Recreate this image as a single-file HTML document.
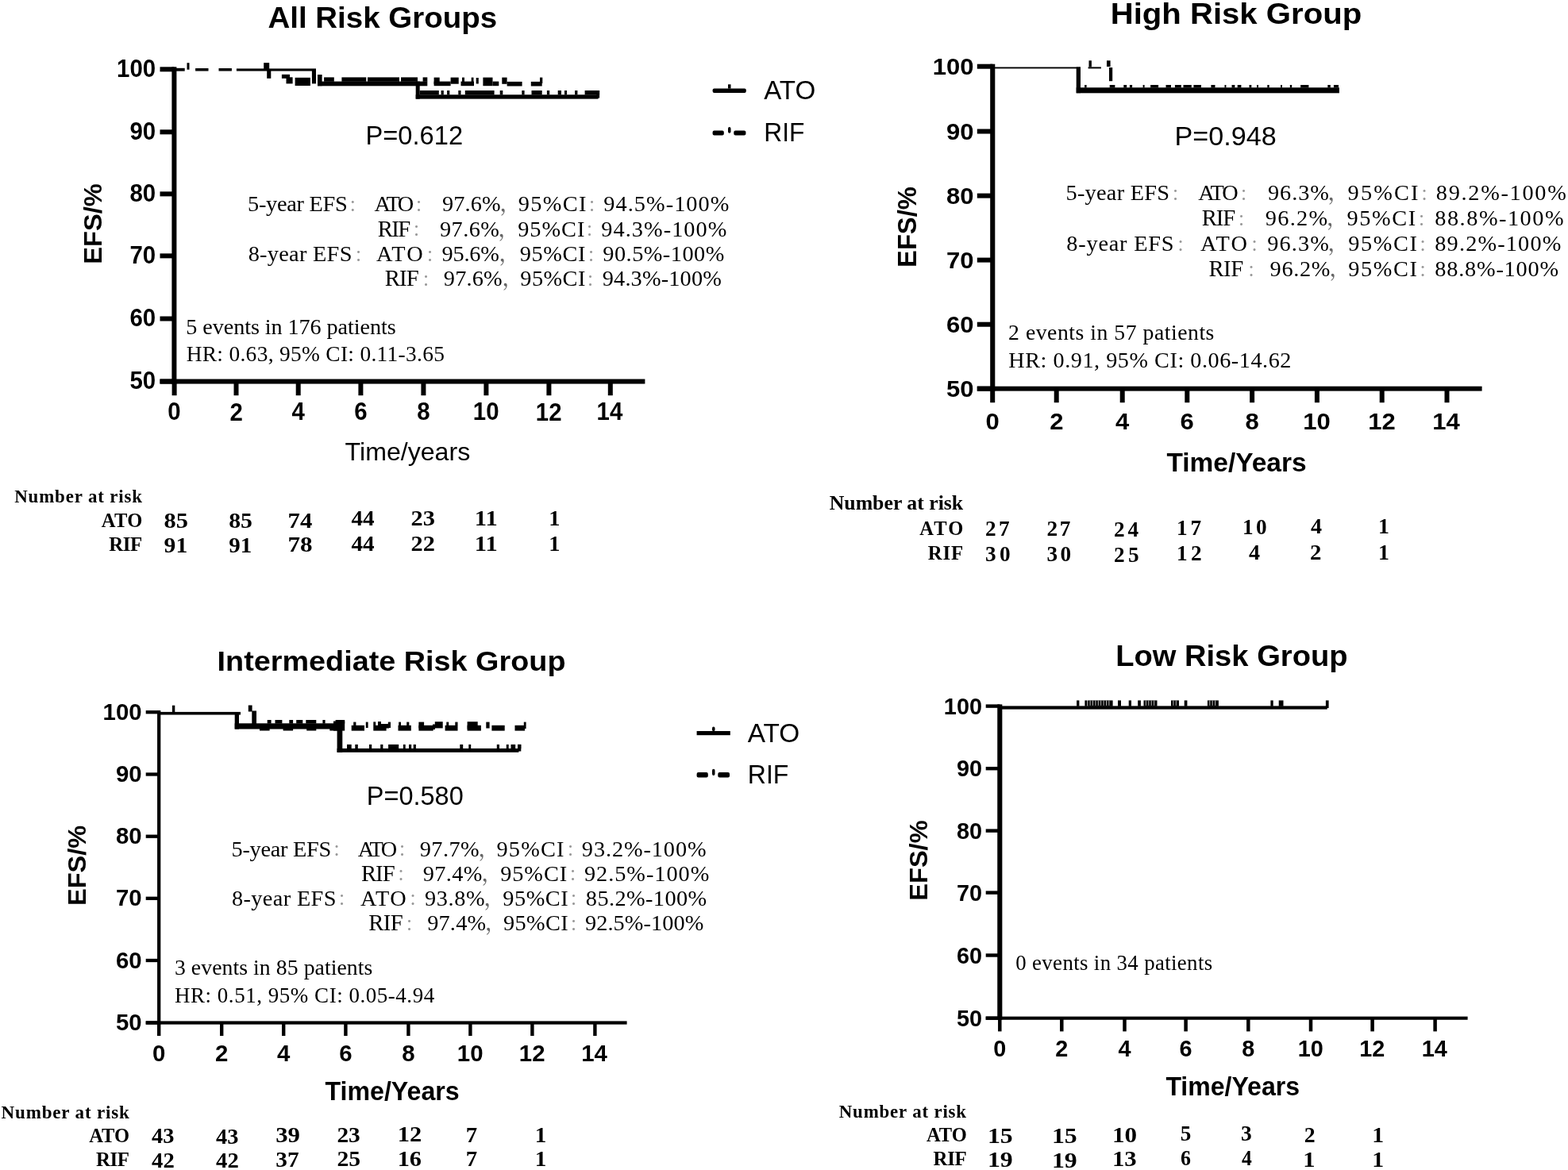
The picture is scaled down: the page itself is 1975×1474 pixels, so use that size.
<!DOCTYPE html>
<html><head><meta charset="utf-8"><title>EFS Kaplan-Meier curves</title>
<style>html,body{margin:0;padding:0;background:#fff;}svg{display:block;filter:blur(0.55px);}</style></head>
<body><svg width="1975" height="1474" viewBox="0 0 1975 1474">
<rect width="1975" height="1474" fill="#fff"/>
<g fill="#000">
<rect x="216.4" y="84.3" width="6" height="399.25"/>
<rect x="201.5" y="477.55" width="610.9" height="6"/>
<rect x="201.5" y="84.3" width="17.9" height="6"/>
<rect x="201.5" y="163.3" width="17.9" height="6"/>
<rect x="201.5" y="241.35" width="17.9" height="6"/>
<rect x="201.5" y="319.35" width="17.9" height="6"/>
<rect x="201.5" y="398.5" width="17.9" height="6"/>
<rect x="201.5" y="477.55" width="17.9" height="6"/>
<rect x="216.6" y="480.55" width="6" height="17.65"/>
<rect x="294.5" y="480.55" width="6" height="17.65"/>
<rect x="372.7" y="480.55" width="6" height="17.65"/>
<rect x="451.4" y="480.55" width="6" height="17.65"/>
<rect x="530.4" y="480.55" width="6" height="17.65"/>
<rect x="609.4" y="480.55" width="6" height="17.65"/>
<rect x="688.4" y="480.55" width="6" height="17.65"/>
<rect x="765.8" y="480.55" width="6" height="17.65"/>
<text font-family='"Liberation Sans", sans-serif' font-size="30.56" font-weight="bold" transform="translate(147.03 97.14) scale(0.9628 1)" x="0" y="0">100</text>
<text font-family='"Liberation Sans", sans-serif' font-size="30.56" font-weight="bold" transform="translate(163.51 176.14) scale(0.9628 1)" x="0" y="0">90</text>
<text font-family='"Liberation Sans", sans-serif' font-size="30.56" font-weight="bold" transform="translate(163.51 254.19) scale(0.9628 1)" x="0" y="0">80</text>
<text font-family='"Liberation Sans", sans-serif' font-size="30.56" font-weight="bold" transform="translate(163.51 332.19) scale(0.9628 1)" x="0" y="0">70</text>
<text font-family='"Liberation Sans", sans-serif' font-size="30.56" font-weight="bold" transform="translate(163.51 411.34) scale(0.9628 1)" x="0" y="0">60</text>
<text font-family='"Liberation Sans", sans-serif' font-size="30.56" font-weight="bold" transform="translate(163.51 490.39) scale(0.9628 1)" x="0" y="0">50</text>
<text font-family='"Liberation Sans", sans-serif' font-size="30.56" font-weight="bold" transform="translate(211.36 529.34) scale(0.9628 1)" x="0" y="0">0</text>
<text font-family='"Liberation Sans", sans-serif' font-size="30.56" font-weight="bold" transform="translate(289.41 529.5) scale(0.9628 1)" x="0" y="0">2</text>
<text font-family='"Liberation Sans", sans-serif' font-size="30.56" font-weight="bold" transform="translate(367.46 529.34) scale(0.9628 1)" x="0" y="0">4</text>
<text font-family='"Liberation Sans", sans-serif' font-size="30.56" font-weight="bold" transform="translate(446.16 529.34) scale(0.9628 1)" x="0" y="0">6</text>
<text font-family='"Liberation Sans", sans-serif' font-size="30.56" font-weight="bold" transform="translate(525.16 529.34) scale(0.9628 1)" x="0" y="0">8</text>
<text font-family='"Liberation Sans", sans-serif' font-size="30.56" font-weight="bold" transform="translate(595.77 529.34) scale(0.9628 1)" x="0" y="0">10</text>
<text font-family='"Liberation Sans", sans-serif' font-size="30.56" font-weight="bold" transform="translate(674.77 529.5) scale(0.9628 1)" x="0" y="0">12</text>
<text font-family='"Liberation Sans", sans-serif' font-size="30.56" font-weight="bold" transform="translate(751.59 529.34) scale(0.9628 1)" x="0" y="0">14</text>
<rect x="1247.2" y="80.7" width="6.1" height="411.9"/>
<rect x="1230.8" y="486.7" width="635.8" height="5.9"/>
<rect x="1230.8" y="80.7" width="19.45" height="6"/>
<rect x="1230.8" y="162.5" width="19.45" height="6"/>
<rect x="1230.8" y="243.6" width="19.45" height="6"/>
<rect x="1230.8" y="324.6" width="19.45" height="6"/>
<rect x="1230.8" y="405.7" width="19.45" height="6"/>
<rect x="1230.8" y="486.65" width="19.45" height="6"/>
<rect x="1247.2" y="489.65" width="6" height="17.55"/>
<rect x="1327.7" y="489.65" width="6" height="17.55"/>
<rect x="1410.7" y="489.65" width="6" height="17.55"/>
<rect x="1492.3" y="489.65" width="6" height="17.55"/>
<rect x="1574.1" y="489.65" width="6" height="17.55"/>
<rect x="1655.9" y="489.65" width="6" height="17.55"/>
<rect x="1737.7" y="489.65" width="6" height="17.55"/>
<rect x="1819.5" y="489.65" width="6" height="17.55"/>
<text font-family='"Liberation Sans", sans-serif' font-size="30.14" font-weight="bold" transform="translate(1174.64 93.9) scale(1.0291 1)" x="0" y="0">100</text>
<text font-family='"Liberation Sans", sans-serif' font-size="30.14" font-weight="bold" transform="translate(1192.01 175.7) scale(1.0291 1)" x="0" y="0">90</text>
<text font-family='"Liberation Sans", sans-serif' font-size="30.14" font-weight="bold" transform="translate(1192.01 256.8) scale(1.0291 1)" x="0" y="0">80</text>
<text font-family='"Liberation Sans", sans-serif' font-size="30.14" font-weight="bold" transform="translate(1192.01 337.8) scale(1.0291 1)" x="0" y="0">70</text>
<text font-family='"Liberation Sans", sans-serif' font-size="30.14" font-weight="bold" transform="translate(1192.01 418.9) scale(1.0291 1)" x="0" y="0">60</text>
<text font-family='"Liberation Sans", sans-serif' font-size="30.14" font-weight="bold" transform="translate(1192.01 499.85) scale(1.0291 1)" x="0" y="0">50</text>
<text font-family='"Liberation Sans", sans-serif' font-size="30.14" font-weight="bold" transform="translate(1241.51 540.8) scale(1.0291 1)" x="0" y="0">0</text>
<text font-family='"Liberation Sans", sans-serif' font-size="30.14" font-weight="bold" transform="translate(1322.17 540.95) scale(1.0291 1)" x="0" y="0">2</text>
<text font-family='"Liberation Sans", sans-serif' font-size="30.14" font-weight="bold" transform="translate(1405.01 540.8) scale(1.0291 1)" x="0" y="0">4</text>
<text font-family='"Liberation Sans", sans-serif' font-size="30.14" font-weight="bold" transform="translate(1486.61 540.8) scale(1.0291 1)" x="0" y="0">6</text>
<text font-family='"Liberation Sans", sans-serif' font-size="30.14" font-weight="bold" transform="translate(1568.41 540.8) scale(1.0291 1)" x="0" y="0">8</text>
<text font-family='"Liberation Sans", sans-serif' font-size="30.14" font-weight="bold" transform="translate(1641.37 540.8) scale(1.0291 1)" x="0" y="0">10</text>
<text font-family='"Liberation Sans", sans-serif' font-size="30.14" font-weight="bold" transform="translate(1723.17 540.95) scale(1.0291 1)" x="0" y="0">12</text>
<text font-family='"Liberation Sans", sans-serif' font-size="30.14" font-weight="bold" transform="translate(1804.35 540.8) scale(1.0291 1)" x="0" y="0">14</text>
<rect x="198.07" y="895.05" width="4.25" height="395.55"/>
<rect x="183.7" y="1286.4" width="605.9" height="4.2"/>
<rect x="183.7" y="895.05" width="16.5" height="4.3"/>
<rect x="183.7" y="973.35" width="16.5" height="4.3"/>
<rect x="183.7" y="1051.55" width="16.5" height="4.3"/>
<rect x="183.7" y="1129.65" width="16.5" height="4.3"/>
<rect x="183.7" y="1207.85" width="16.5" height="4.3"/>
<rect x="183.7" y="1286.35" width="16.5" height="4.3"/>
<rect x="198" y="1288.5" width="4.4" height="16.5"/>
<rect x="277" y="1288.5" width="4.4" height="16.5"/>
<rect x="355" y="1288.5" width="4.4" height="16.5"/>
<rect x="433.2" y="1288.5" width="4.4" height="16.5"/>
<rect x="512.2" y="1288.5" width="4.4" height="16.5"/>
<rect x="590.2" y="1288.5" width="4.4" height="16.5"/>
<rect x="668.2" y="1288.5" width="4.4" height="16.5"/>
<rect x="747.2" y="1288.5" width="4.4" height="16.5"/>
<text font-family='"Liberation Sans", sans-serif' font-size="30.28" font-weight="bold" transform="translate(129.53 906.75) scale(0.9718 1)" x="0" y="0">100</text>
<text font-family='"Liberation Sans", sans-serif' font-size="30.28" font-weight="bold" transform="translate(146.01 985.05) scale(0.9718 1)" x="0" y="0">90</text>
<text font-family='"Liberation Sans", sans-serif' font-size="30.28" font-weight="bold" transform="translate(146.01 1063.25) scale(0.9718 1)" x="0" y="0">80</text>
<text font-family='"Liberation Sans", sans-serif' font-size="30.28" font-weight="bold" transform="translate(146.01 1141.35) scale(0.9718 1)" x="0" y="0">70</text>
<text font-family='"Liberation Sans", sans-serif' font-size="30.28" font-weight="bold" transform="translate(146.01 1219.55) scale(0.9718 1)" x="0" y="0">60</text>
<text font-family='"Liberation Sans", sans-serif' font-size="30.28" font-weight="bold" transform="translate(146.01 1298.05) scale(0.9718 1)" x="0" y="0">50</text>
<text font-family='"Liberation Sans", sans-serif' font-size="30.28" font-weight="bold" transform="translate(191.96 1336.65) scale(0.9718 1)" x="0" y="0">0</text>
<text font-family='"Liberation Sans", sans-serif' font-size="30.28" font-weight="bold" transform="translate(271.11 1336.8) scale(0.9718 1)" x="0" y="0">2</text>
<text font-family='"Liberation Sans", sans-serif' font-size="30.28" font-weight="bold" transform="translate(348.96 1336.65) scale(0.9718 1)" x="0" y="0">4</text>
<text font-family='"Liberation Sans", sans-serif' font-size="30.28" font-weight="bold" transform="translate(427.16 1336.65) scale(0.9718 1)" x="0" y="0">6</text>
<text font-family='"Liberation Sans", sans-serif' font-size="30.28" font-weight="bold" transform="translate(506.16 1336.65) scale(0.9718 1)" x="0" y="0">8</text>
<text font-family='"Liberation Sans", sans-serif' font-size="30.28" font-weight="bold" transform="translate(575.77 1336.65) scale(0.9718 1)" x="0" y="0">10</text>
<text font-family='"Liberation Sans", sans-serif' font-size="30.28" font-weight="bold" transform="translate(653.77 1336.8) scale(0.9718 1)" x="0" y="0">12</text>
<text font-family='"Liberation Sans", sans-serif' font-size="30.28" font-weight="bold" transform="translate(732.19 1336.65) scale(0.9718 1)" x="0" y="0">14</text>
<rect x="1256.25" y="887.4" width="6.1" height="397.35"/>
<rect x="1241.7" y="1280.65" width="606.9" height="4.1"/>
<rect x="1241.7" y="887.4" width="17.6" height="4.4"/>
<rect x="1241.7" y="966" width="17.6" height="4.4"/>
<rect x="1241.7" y="1044.4" width="17.6" height="4.4"/>
<rect x="1241.7" y="1122.4" width="17.6" height="4.4"/>
<rect x="1241.7" y="1201.3" width="17.6" height="4.4"/>
<rect x="1241.7" y="1280.5" width="17.6" height="4.4"/>
<rect x="1257.05" y="1282.7" width="4.5" height="16.7"/>
<rect x="1335.05" y="1282.7" width="4.5" height="16.7"/>
<rect x="1414.25" y="1282.7" width="4.5" height="16.7"/>
<rect x="1491.35" y="1282.7" width="4.5" height="16.7"/>
<rect x="1570.05" y="1282.7" width="4.5" height="16.7"/>
<rect x="1648.75" y="1282.7" width="4.5" height="16.7"/>
<rect x="1726.35" y="1282.7" width="4.5" height="16.7"/>
<rect x="1805.35" y="1282.7" width="4.5" height="16.7"/>
<text font-family='"Liberation Sans", sans-serif' font-size="29.58" font-weight="bold" transform="translate(1188.87 899.6) scale(0.9755 1)" x="0" y="0">100</text>
<text font-family='"Liberation Sans", sans-serif' font-size="29.58" font-weight="bold" transform="translate(1205.03 978.2) scale(0.9755 1)" x="0" y="0">90</text>
<text font-family='"Liberation Sans", sans-serif' font-size="29.58" font-weight="bold" transform="translate(1205.03 1056.6) scale(0.9755 1)" x="0" y="0">80</text>
<text font-family='"Liberation Sans", sans-serif' font-size="29.58" font-weight="bold" transform="translate(1205.03 1134.6) scale(0.9755 1)" x="0" y="0">70</text>
<text font-family='"Liberation Sans", sans-serif' font-size="29.58" font-weight="bold" transform="translate(1205.03 1213.5) scale(0.9755 1)" x="0" y="0">60</text>
<text font-family='"Liberation Sans", sans-serif' font-size="29.58" font-weight="bold" transform="translate(1205.03 1292.7) scale(0.9755 1)" x="0" y="0">50</text>
<text font-family='"Liberation Sans", sans-serif' font-size="29.58" font-weight="bold" transform="translate(1251.22 1330.55) scale(0.9755 1)" x="0" y="0">0</text>
<text font-family='"Liberation Sans", sans-serif' font-size="29.58" font-weight="bold" transform="translate(1329.37 1330.7) scale(0.9755 1)" x="0" y="0">2</text>
<text font-family='"Liberation Sans", sans-serif' font-size="29.58" font-weight="bold" transform="translate(1408.42 1330.55) scale(0.9755 1)" x="0" y="0">4</text>
<text font-family='"Liberation Sans", sans-serif' font-size="29.58" font-weight="bold" transform="translate(1485.52 1330.55) scale(0.9755 1)" x="0" y="0">6</text>
<text font-family='"Liberation Sans", sans-serif' font-size="29.58" font-weight="bold" transform="translate(1564.22 1330.55) scale(0.9755 1)" x="0" y="0">8</text>
<text font-family='"Liberation Sans", sans-serif' font-size="29.58" font-weight="bold" transform="translate(1634.7 1330.55) scale(0.9755 1)" x="0" y="0">10</text>
<text font-family='"Liberation Sans", sans-serif' font-size="29.58" font-weight="bold" transform="translate(1712.3 1330.7) scale(0.9755 1)" x="0" y="0">12</text>
<text font-family='"Liberation Sans", sans-serif' font-size="29.58" font-weight="bold" transform="translate(1790.72 1330.55) scale(0.9755 1)" x="0" y="0">14</text>
<rect x="897.6" y="111.4" width="42.2" height="5.6" rx="2"/>
<rect x="917" y="106.3" width="3.5" height="5.3"/>
<rect x="897.6" y="164.4" width="14.2" height="6" rx="2"/>
<rect x="917" y="160" width="3.5" height="7.8" rx="2"/>
<rect x="924.3" y="164.4" width="15.1" height="6" rx="2"/>
<rect x="877.6" y="921" width="42.2" height="5.2"/>
<rect x="897" y="915.4" width="3.5" height="5.8" rx="2"/>
<rect x="877.6" y="973.1" width="14.2" height="6.4" rx="2"/>
<rect x="897" y="968.8" width="3.5" height="8.1" rx="2"/>
<rect x="904.3" y="973.1" width="14.7" height="6.4" rx="2"/>
<rect x="219.5" y="85.8" width="13.2" height="3.8"/>
<rect x="235.5" y="79.2" width="3" height="8.5"/>
<rect x="246.1" y="86" width="16.4" height="3.5"/>
<rect x="275.5" y="86" width="16.4" height="3.5"/>
<rect x="297.9" y="86.4" width="100.1" height="3.1"/>
<rect x="332.2" y="79.1" width="7" height="8.9"/>
<rect x="336.2" y="88" width="5.1" height="10.8"/>
<rect x="354.9" y="93.8" width="10.1" height="5"/>
<rect x="360.5" y="97.3" width="8.1" height="8.1"/>
<rect x="371.6" y="97.8" width="19.3" height="10.2"/>
<rect x="392.9" y="88" width="5.1" height="17.4"/>
<rect x="400" y="94" width="5.6" height="14.2"/>
<rect x="400" y="102.6" width="138.3" height="5.7"/>
<rect x="408.1" y="97.4" width="12.7" height="5.4"/>
<rect x="430.4" y="97.4" width="30.9" height="5.4"/>
<rect x="463" y="97.4" width="40" height="5.4"/>
<rect x="505" y="97.4" width="21" height="5.4"/>
<rect x="532.6" y="97.4" width="5.7" height="5.4"/>
<rect x="523.7" y="102.6" width="5" height="22"/>
<rect x="523.7" y="119.3" width="229.8" height="5.3"/>
<rect x="528.7" y="114" width="24.1" height="5.5"/>
<rect x="555.6" y="114" width="3.2" height="5.5"/>
<rect x="563.1" y="114" width="3.2" height="5.5"/>
<rect x="577.3" y="114" width="3.2" height="5.5"/>
<rect x="585.8" y="114" width="36.8" height="5.5"/>
<rect x="629.7" y="114" width="3.6" height="5.5"/>
<rect x="657.3" y="114" width="3.3" height="5.5"/>
<rect x="669.5" y="114" width="13.2" height="5.5"/>
<rect x="688.9" y="114" width="3.3" height="5.5"/>
<rect x="702.7" y="114" width="4.3" height="5.5"/>
<rect x="711" y="114" width="3" height="5.5"/>
<rect x="724.1" y="114" width="3.3" height="5.5"/>
<rect x="736.6" y="114" width="18.5" height="5.5"/>
<rect x="751.5" y="114" width="3.6" height="9.5"/>
<rect x="546.6" y="102.6" width="21" height="5.6"/>
<rect x="546.6" y="97.6" width="7.1" height="8.4"/>
<rect x="567.6" y="97.6" width="10.1" height="8.1"/>
<rect x="580.5" y="102.6" width="16.5" height="5.6"/>
<rect x="582" y="97.6" width="3" height="5.4"/>
<rect x="593.7" y="97.6" width="2.8" height="5.4"/>
<rect x="599.7" y="98" width="3.1" height="7.5"/>
<rect x="608.4" y="97.6" width="12.1" height="10.6"/>
<rect x="620.5" y="102.6" width="7.8" height="5.6"/>
<rect x="632.3" y="97.6" width="6.3" height="8.2"/>
<rect x="638.6" y="102.9" width="19" height="5.6"/>
<rect x="668.8" y="102.9" width="13.9" height="5.6"/>
<rect x="680" y="97.6" width="3.3" height="7.4"/>
<rect x="1252.5" y="84.5" width="108.5" height="1.9"/>
<rect x="1355.7" y="84.5" width="5.3" height="32.7"/>
<rect x="1355.7" y="110.3" width="331.2" height="7"/>
<rect x="1370.6" y="84.4" width="16.3" height="2"/>
<rect x="1371.5" y="76.3" width="3.4" height="8.2"/>
<rect x="1394" y="76.3" width="4.6" height="7.7"/>
<rect x="1397" y="85" width="4.2" height="17.2"/>
<rect x="1366.1" y="107" width="2.5" height="3.5"/>
<rect x="1397.7" y="107" width="6.7" height="3.5"/>
<rect x="1415.3" y="107" width="3.9" height="3.5"/>
<rect x="1422.9" y="107" width="3.2" height="3.5"/>
<rect x="1439.6" y="107" width="2" height="3.5"/>
<rect x="1449.1" y="107" width="10" height="3.5"/>
<rect x="1468.5" y="107" width="6.5" height="3.5"/>
<rect x="1479.9" y="107" width="8" height="3.5"/>
<rect x="1490.5" y="107" width="10.3" height="3.5"/>
<rect x="1503.4" y="107" width="9.6" height="3.5"/>
<rect x="1525.4" y="107" width="5.1" height="3.5"/>
<rect x="1542.5" y="107" width="1.9" height="3.5"/>
<rect x="1551.5" y="107" width="3.9" height="3.5"/>
<rect x="1558.7" y="107" width="4.7" height="3.5"/>
<rect x="1573.5" y="107" width="2.8" height="3.5"/>
<rect x="1583" y="107" width="2" height="3.5"/>
<rect x="1596.3" y="107" width="2.4" height="3.5"/>
<rect x="1613" y="107" width="2" height="3.5"/>
<rect x="1624.8" y="107" width="2.4" height="3.5"/>
<rect x="1638.1" y="107" width="10.3" height="3.5"/>
<rect x="1672.3" y="107" width="3.5" height="3.5"/>
<rect x="1679.9" y="107" width="6.1" height="3.5"/>
<rect x="201.5" y="896.9" width="101.5" height="3.6"/>
<rect x="216.9" y="888.7" width="3.4" height="8.3"/>
<rect x="295.7" y="897" width="5.3" height="21.5"/>
<rect x="312.8" y="888.5" width="4.8" height="8"/>
<rect x="317.3" y="895.5" width="5.7" height="16.5"/>
<rect x="295.7" y="911.3" width="136.3" height="7.2"/>
<rect x="327" y="918" width="12.6" height="2.5"/>
<rect x="356.6" y="918" width="12.5" height="2.5"/>
<rect x="386.2" y="918" width="12.1" height="2.5"/>
<rect x="415.3" y="918" width="9.7" height="2.5"/>
<rect x="336.7" y="907" width="4.9" height="4.6"/>
<rect x="346.5" y="907" width="8.9" height="4.6"/>
<rect x="364.3" y="907" width="4.8" height="4.6"/>
<rect x="373.2" y="907" width="8.1" height="4.6"/>
<rect x="385.3" y="907" width="13" height="4.6"/>
<rect x="406.4" y="907" width="3.2" height="4.6"/>
<rect x="422.6" y="907" width="11.6" height="4.6"/>
<rect x="420" y="908.5" width="14.2" height="12.1"/>
<rect x="424.6" y="908.5" width="6.7" height="39.3"/>
<rect x="424.6" y="942.9" width="228.8" height="4.9"/>
<rect x="437" y="937.9" width="5.7" height="5.3"/>
<rect x="447.3" y="937.9" width="3.5" height="5.3"/>
<rect x="465" y="937.9" width="3.2" height="5.3"/>
<rect x="479.2" y="937.9" width="3.2" height="5.3"/>
<rect x="489.1" y="937.9" width="13.1" height="5.3"/>
<rect x="507.9" y="937.9" width="2.8" height="5.3"/>
<rect x="515" y="937.9" width="3.2" height="5.3"/>
<rect x="520.7" y="937.9" width="3.2" height="5.3"/>
<rect x="579.3" y="937.9" width="3.9" height="5.3"/>
<rect x="590.3" y="937.9" width="2.9" height="5.3"/>
<rect x="625.8" y="937.9" width="3.2" height="5.3"/>
<rect x="637.8" y="937.9" width="2.9" height="5.3"/>
<rect x="643.5" y="937.9" width="5.7" height="5.3"/>
<rect x="652" y="937.9" width="4.3" height="5.3"/>
<rect x="652" y="937.9" width="4.3" height="8.6"/>
<rect x="442.7" y="913.8" width="16.3" height="6.8"/>
<rect x="445.2" y="909.6" width="3.2" height="4.4"/>
<rect x="460.8" y="909.6" width="2.8" height="7.4"/>
<rect x="470.3" y="913.8" width="16.3" height="6.8"/>
<rect x="470.3" y="909.4" width="2.9" height="4.6"/>
<rect x="476" y="909" width="4" height="5"/>
<rect x="480" y="912" width="10" height="5.5"/>
<rect x="488.8" y="909.6" width="3.2" height="7.4"/>
<rect x="501.5" y="913.8" width="16.3" height="6.8"/>
<rect x="502.2" y="909.6" width="2.8" height="4.4"/>
<rect x="512.2" y="909.6" width="3.1" height="4.4"/>
<rect x="527.4" y="909.6" width="6.7" height="7.9"/>
<rect x="527.4" y="913.8" width="18.3" height="6.8"/>
<rect x="547.8" y="909.2" width="9.9" height="8.2"/>
<rect x="545" y="912.5" width="3" height="6.5"/>
<rect x="560.6" y="913.8" width="15.9" height="6.8"/>
<rect x="562.3" y="909.6" width="2.9" height="4.4"/>
<rect x="573.3" y="909.6" width="3.2" height="4.4"/>
<rect x="588.6" y="909.2" width="13.1" height="9.3"/>
<rect x="588.6" y="913.8" width="17.3" height="6.8"/>
<rect x="612.3" y="909.6" width="4.3" height="7.9"/>
<rect x="619.4" y="913.8" width="16.3" height="6.8"/>
<rect x="648.5" y="913.8" width="12.5" height="6.8"/>
<rect x="659.8" y="909.6" width="2.8" height="8.4"/>
<rect x="1261.5" y="889.4" width="410.2" height="4.2"/>
<rect x="1669.9" y="882.4" width="3.7" height="9.6"/>
<rect x="1356.1" y="882.4" width="3.3" height="7.4"/>
<rect x="1366.4" y="882.4" width="3" height="7.4"/>
<rect x="1408" y="882.4" width="4" height="7.4"/>
<rect x="1421.7" y="882.4" width="3.3" height="7.4"/>
<rect x="1433.2" y="882.4" width="3.7" height="7.4"/>
<rect x="1491.7" y="882.4" width="3.7" height="7.4"/>
<rect x="1600.4" y="882.4" width="3.3" height="7.4"/>
<rect x="1610.7" y="882.4" width="5.8" height="7.4"/>
<rect x="1370.2" y="882.4" width="31.4" height="7.4"/>
<rect x="1372.6" y="882.4" width="1" height="6.4" fill="#bbb"/>
<rect x="1376" y="882.4" width="1" height="6.4" fill="#bbb"/>
<rect x="1379.4" y="882.4" width="1" height="6.4" fill="#bbb"/>
<rect x="1382.8" y="882.4" width="1" height="6.4" fill="#bbb"/>
<rect x="1386.2" y="882.4" width="1" height="6.4" fill="#bbb"/>
<rect x="1389.6" y="882.4" width="1" height="6.4" fill="#bbb"/>
<rect x="1393" y="882.4" width="1" height="6.4" fill="#bbb"/>
<rect x="1396.4" y="882.4" width="1" height="6.4" fill="#bbb"/>
<rect x="1440.5" y="882.4" width="17" height="7.4"/>
<rect x="1442.9" y="882.4" width="1" height="6.4" fill="#bbb"/>
<rect x="1446.3" y="882.4" width="1" height="6.4" fill="#bbb"/>
<rect x="1449.7" y="882.4" width="1" height="6.4" fill="#bbb"/>
<rect x="1453.1" y="882.4" width="1" height="6.4" fill="#bbb"/>
<rect x="1475" y="882.4" width="10" height="7.4"/>
<rect x="1477.4" y="882.4" width="1" height="6.4" fill="#bbb"/>
<rect x="1480.8" y="882.4" width="1" height="6.4" fill="#bbb"/>
<rect x="1520.9" y="882.4" width="14" height="7.4"/>
<rect x="1523.3" y="882.4" width="1" height="6.4" fill="#bbb"/>
<rect x="1526.7" y="882.4" width="1" height="6.4" fill="#bbb"/>
<rect x="1530.1" y="882.4" width="1" height="6.4" fill="#bbb"/>
<text font-family='"Liberation Sans", sans-serif' font-size="37.67" font-weight="bold" transform="translate(337.44 34.8) scale(1.0222 1)" x="0" y="0">All Risk Groups</text>
<text font-family='"Liberation Sans", sans-serif' font-size="36.99" font-weight="bold" transform="translate(1398.69 29.7) scale(1.0846 1)" x="0" y="0">High Risk Group</text>
<text font-family='"Liberation Sans", sans-serif' font-size="35.75" font-weight="bold" transform="translate(273.55 844.7) scale(1.0575 1)" x="0" y="0">Intermediate Risk Group</text>
<text font-family='"Liberation Sans", sans-serif' font-size="36.99" font-weight="bold" transform="translate(1405.13 839.2) scale(1.0314 1)" x="0" y="0">Low Risk Group</text>
<text font-family='"Liberation Sans", sans-serif' font-size="31.92" transform="translate(434.56 580.1) scale(1.0071 1)" x="0" y="0">Time/years</text>
<text font-family='"Liberation Sans", sans-serif' font-size="32.47" font-weight="bold" transform="translate(1469.47 593.7) scale(1.0311 1)" x="0" y="0">Time/Years</text>
<text font-family='"Liberation Sans", sans-serif' font-size="32.33" font-weight="bold" transform="translate(409.48 1386) scale(0.9945 1)" x="0" y="0">Time/Years</text>
<text font-family='"Liberation Sans", sans-serif' font-size="32.47" font-weight="bold" transform="translate(1468.38 1379.9) scale(0.9873 1)" x="0" y="0">Time/Years</text>
<text font-family='"Liberation Sans", sans-serif' font-size="33.57" transform="translate(460.49 181.7) scale(0.9734 1)" x="0" y="0">P=0.612</text>
<text font-family='"Liberation Sans", sans-serif' font-size="33.14" transform="translate(1479.57 182.8) scale(1.0307 1)" x="0" y="0">P=0.948</text>
<text font-family='"Liberation Sans", sans-serif' font-size="33.86" transform="translate(461.8 1013.8) scale(0.9599 1)" x="0" y="0">P=0.580</text>
<text font-family='"Liberation Sans", sans-serif' font-size="33.29" transform="translate(962.2 124.8) scale(0.9967 1)" x="0" y="0">ATO</text>
<text font-family='"Liberation Sans", sans-serif' font-size="33.14" transform="translate(962.26 178.1) scale(0.9578 1)" x="0" y="0">RIF</text>
<text font-family='"Liberation Sans", sans-serif' font-size="33.86" transform="translate(941.8 934.8) scale(0.9861 1)" x="0" y="0">ATO</text>
<text font-family='"Liberation Sans", sans-serif' font-size="33.29" transform="translate(941.84 987.3) scale(0.9618 1)" x="0" y="0">RIF</text>
<text font-family='"Liberation Serif", serif' font-size="28.18" x="234.31" y="421" letter-spacing="-0.07">5 events in 176 patients</text>
<text font-family='"Liberation Serif", serif' font-size="27.42" x="234.68" y="454.9" letter-spacing="0.31">HR: 0.63, 95% CI: 0.11-3.65</text>
<text font-family='"Liberation Serif", serif' font-size="27.73" x="1270.09" y="428.3" letter-spacing="0.52">2 events in 57 patients</text>
<text font-family='"Liberation Serif", serif' font-size="28.18" x="1270.35" y="462.9" letter-spacing="0.55">HR: 0.91, 95% CI: 0.06-14.62</text>
<text font-family='"Liberation Serif", serif' font-size="27.73" x="219.91" y="1228.3" letter-spacing="0.07">3 events in 85 patients</text>
<text font-family='"Liberation Serif", serif' font-size="26.97" x="219.99" y="1262.6" letter-spacing="0.54">HR: 0.51, 95% CI: 0.05-4.94</text>
<text font-family='"Liberation Serif", serif' font-size="26.82" x="1279.23" y="1222.3" letter-spacing="0.37">0 events in 34 patients</text>
<text font-family='"Liberation Serif", serif' font-size="28.33" x="312.1" y="266.2" letter-spacing="-0.29">5-year EFS</text>
<text font-family='"Liberation Serif", serif' font-size="28.33" x="471.62" y="266.2" letter-spacing="-2.48">ATO</text>
<text font-family='"Liberation Serif", serif' font-size="28.33" x="556.95" y="266.2" letter-spacing="0.15">97.6%</text>
<text font-family='"Liberation Serif", serif' font-size="28.33" x="652.65" y="266.2" letter-spacing="1.38">95%CI</text>
<text font-family='"Liberation Serif", serif' font-size="28.33" x="760.35" y="266.2" letter-spacing="1.03">94.5%-100%</text>
<text font-family='"Liberation Serif", serif' font-size="28.77" x="475.74" y="297.6" letter-spacing="-1.58">RIF</text>
<text font-family='"Liberation Serif", serif' font-size="28.33" x="553.95" y="297.6" letter-spacing="0.43">97.6%</text>
<text font-family='"Liberation Serif", serif' font-size="28.33" x="652.15" y="297.6" letter-spacing="1">95%CI</text>
<text font-family='"Liberation Serif", serif' font-size="28.33" x="757.35" y="297.6" letter-spacing="1.03">94.3%-100%</text>
<text font-family='"Liberation Serif", serif' font-size="28.33" x="312.67" y="328.8" letter-spacing="0.28">8-year EFS</text>
<text font-family='"Liberation Serif", serif' font-size="28.33" x="473.92" y="328.8" letter-spacing="2.12">ATO</text>
<text font-family='"Liberation Serif", serif' font-size="28.33" x="556.55" y="328.8" letter-spacing="-0.22">95.6%</text>
<text font-family='"Liberation Serif", serif' font-size="28.33" x="654.65" y="328.8" letter-spacing="0.63">95%CI</text>
<text font-family='"Liberation Serif", serif' font-size="28.33" x="759.35" y="328.8" letter-spacing="0.47">90.5%-100%</text>
<text font-family='"Liberation Serif", serif' font-size="28.77" x="484.64" y="360" letter-spacing="-0.78">RIF</text>
<text font-family='"Liberation Serif", serif' font-size="28.33" x="558.85" y="360" letter-spacing="0.17">97.6%</text>
<text font-family='"Liberation Serif", serif' font-size="28.33" x="655.25" y="360" letter-spacing="0.48">95%CI</text>
<text font-family='"Liberation Serif", serif' font-size="28.33" x="758.75" y="360" letter-spacing="0.15">94.3%-100%</text>
<text font-family='"Liberation Serif", serif' font-size="28.33" x="1342.5" y="252" letter-spacing="0.25">5-year EFS</text>
<text font-family='"Liberation Serif", serif' font-size="28.33" x="1509.32" y="252" letter-spacing="-2.13">ATO</text>
<text font-family='"Liberation Serif", serif' font-size="28.33" x="1596.95" y="252" letter-spacing="0.93">96.3%</text>
<text font-family='"Liberation Serif", serif' font-size="28.33" x="1697.55" y="252" letter-spacing="2.18">95%CI</text>
<text font-family='"Liberation Serif", serif' font-size="28.33" x="1808.87" y="252" letter-spacing="1.69">89.2%-100%</text>
<text font-family='"Liberation Serif", serif' font-size="28.77" x="1513.64" y="284" letter-spacing="-1.03">RIF</text>
<text font-family='"Liberation Serif", serif' font-size="28.33" x="1593.65" y="284" letter-spacing="1.35">96.2%</text>
<text font-family='"Liberation Serif", serif' font-size="28.33" x="1696.55" y="284" letter-spacing="1.6">95%CI</text>
<text font-family='"Liberation Serif", serif' font-size="28.33" x="1807.27" y="284" letter-spacing="1.51">88.8%-100%</text>
<text font-family='"Liberation Serif", serif' font-size="28.33" x="1343.27" y="315.9" letter-spacing="0.79">8-year EFS</text>
<text font-family='"Liberation Serif", serif' font-size="28.33" x="1511.92" y="315.9" letter-spacing="2.27">ATO</text>
<text font-family='"Liberation Serif", serif' font-size="28.33" x="1596.25" y="315.9" letter-spacing="1.1">96.3%</text>
<text font-family='"Liberation Serif", serif' font-size="28.33" x="1698.15" y="315.9" letter-spacing="1.63">95%CI</text>
<text font-family='"Liberation Serif", serif' font-size="28.33" x="1807.27" y="315.9" letter-spacing="1.15">89.2%-100%</text>
<text font-family='"Liberation Serif", serif' font-size="28.77" x="1522.44" y="347.9" letter-spacing="-0.53">RIF</text>
<text font-family='"Liberation Serif", serif' font-size="28.33" x="1599.55" y="347.9" letter-spacing="0.67">96.2%</text>
<text font-family='"Liberation Serif", serif' font-size="28.33" x="1698.15" y="347.9" letter-spacing="1.63">95%CI</text>
<text font-family='"Liberation Serif", serif' font-size="28.33" x="1807.27" y="347.9" letter-spacing="0.79">88.8%-100%</text>
<text font-family='"Liberation Serif", serif' font-size="28.33" x="291.5" y="1078.6" letter-spacing="-0.28">5-year EFS</text>
<text font-family='"Liberation Serif", serif' font-size="28.33" x="450.82" y="1078.6" letter-spacing="-2.58">ATO</text>
<text font-family='"Liberation Serif", serif' font-size="28.33" x="528.75" y="1078.6" letter-spacing="0.45">97.7%</text>
<text font-family='"Liberation Serif", serif' font-size="28.33" x="625.45" y="1078.6" letter-spacing="1.18">95%CI</text>
<text font-family='"Liberation Serif", serif' font-size="28.33" x="732.85" y="1078.6" letter-spacing="0.89">93.2%-100%</text>
<text font-family='"Liberation Serif", serif' font-size="28.77" x="454.94" y="1109.7" letter-spacing="-1.03">RIF</text>
<text font-family='"Liberation Serif", serif' font-size="28.33" x="532.85" y="1109.7" letter-spacing="0.35">97.4%</text>
<text font-family='"Liberation Serif", serif' font-size="28.33" x="630.15" y="1109.7" letter-spacing="0.95">95%CI</text>
<text font-family='"Liberation Serif", serif' font-size="28.33" x="735.95" y="1109.7" letter-spacing="0.96">92.5%-100%</text>
<text font-family='"Liberation Serif", serif' font-size="28.33" x="292.07" y="1140.7" letter-spacing="0.35">8-year EFS</text>
<text font-family='"Liberation Serif", serif' font-size="28.33" x="454.02" y="1140.7" letter-spacing="1.62">ATO</text>
<text font-family='"Liberation Serif", serif' font-size="28.33" x="535.05" y="1140.7" letter-spacing="0.6">93.8%</text>
<text font-family='"Liberation Serif", serif' font-size="28.33" x="633.35" y="1140.7" letter-spacing="0.53">95%CI</text>
<text font-family='"Liberation Serif", serif' font-size="28.33" x="737.87" y="1140.7" letter-spacing="0.4">85.2%-100%</text>
<text font-family='"Liberation Serif", serif' font-size="28.77" x="464.34" y="1172" letter-spacing="-0.68">RIF</text>
<text font-family='"Liberation Serif", serif' font-size="28.33" x="538.15" y="1172" letter-spacing="0.2">97.4%</text>
<text font-family='"Liberation Serif", serif' font-size="28.33" x="633.95" y="1172" letter-spacing="0.38">95%CI</text>
<text font-family='"Liberation Serif", serif' font-size="28.33" x="736.95" y="1172" letter-spacing="0.08">92.5%-100%</text>
<text font-family='"Liberation Serif", serif' font-size="22.9" font-weight="bold" x="18.14" y="633.4" letter-spacing="0.87">Number at risk</text>
<text font-family='"Liberation Serif", serif' font-size="24.55" font-weight="bold" x="127.75" y="663.7" letter-spacing="0.31">ATO</text>
<text font-family='"Liberation Serif", serif' font-size="24.92" font-weight="bold" x="137.2" y="693.7" letter-spacing="-0.44">RIF</text>
<text font-family='"Liberation Serif", serif' font-size="27.27" font-weight="bold" transform="translate(206.59 664.7) scale(1.1158 1)" x="0" y="0">85</text>
<text font-family='"Liberation Serif", serif' font-size="27.27" font-weight="bold" transform="translate(288.21 665.3) scale(1.0921 1)" x="0" y="0">85</text>
<text font-family='"Liberation Serif", serif' font-size="27.69" font-weight="bold" transform="translate(362.55 664.5) scale(1.1108 1)" x="0" y="0">74</text>
<text font-family='"Liberation Serif", serif' font-size="27.69" font-weight="bold" transform="translate(442.51 662.4) scale(1.0536 1)" x="0" y="0">44</text>
<text font-family='"Liberation Serif", serif' font-size="27.27" font-weight="bold" transform="translate(517.48 662.4) scale(1.1158 1)" x="0" y="0">23</text>
<text font-family='"Liberation Serif", serif' font-size="27.27" font-weight="bold" transform="translate(597.86 662.4) scale(1.1181 1)" x="0" y="0">11</text>
<text font-family='"Liberation Serif", serif' font-size="27.27" font-weight="bold" transform="translate(691.23 662.4) scale(1.0405 1)" x="0" y="0">1</text>
<text font-family='"Liberation Serif", serif' font-size="27.27" font-weight="bold" transform="translate(206.61 696.1) scale(1.0880 1)" x="0" y="0">91</text>
<text font-family='"Liberation Serif", serif' font-size="27.27" font-weight="bold" transform="translate(288.23 696.1) scale(1.0641 1)" x="0" y="0">91</text>
<text font-family='"Liberation Serif", serif' font-size="27.27" font-weight="bold" transform="translate(362.53 695) scale(1.1403 1)" x="0" y="0">78</text>
<text font-family='"Liberation Serif", serif' font-size="27.69" font-weight="bold" transform="translate(442.51 693.8) scale(1.0536 1)" x="0" y="0">44</text>
<text font-family='"Liberation Serif", serif' font-size="27.27" font-weight="bold" transform="translate(517.49 693.8) scale(1.1120 1)" x="0" y="0">22</text>
<text font-family='"Liberation Serif", serif' font-size="27.27" font-weight="bold" transform="translate(597.86 693.8) scale(1.1181 1)" x="0" y="0">11</text>
<text font-family='"Liberation Serif", serif' font-size="27.27" font-weight="bold" transform="translate(691.23 693.8) scale(1.0405 1)" x="0" y="0">1</text>
<text font-family='"Liberation Serif", serif' font-size="25.8" font-weight="bold" x="1044.68" y="642" letter-spacing="-0.01">Number at risk</text>
<text font-family='"Liberation Serif", serif' font-size="24.55" font-weight="bold" x="1158.35" y="673.8" letter-spacing="2.06">ATO</text>
<text font-family='"Liberation Serif", serif' font-size="24.92" font-weight="bold" x="1168.8" y="705.2" letter-spacing="0.81">RIF</text>
<text font-family='"Liberation Serif", serif' font-size="27.27" font-weight="bold" x="1241.11" y="675.2" letter-spacing="3.16">27</text>
<text font-family='"Liberation Serif", serif' font-size="27.27" font-weight="bold" x="1318.41" y="675.2" letter-spacing="2.76">27</text>
<text font-family='"Liberation Serif", serif' font-size="27.27" font-weight="bold" x="1403.11" y="676" letter-spacing="3.66">24</text>
<text font-family='"Liberation Serif", serif' font-size="27.27" font-weight="bold" x="1482.02" y="674.4" letter-spacing="3.75">17</text>
<text font-family='"Liberation Serif", serif' font-size="27.27" font-weight="bold" x="1564.92" y="673.4" letter-spacing="3.4">10</text>
<text font-family='"Liberation Serif", serif' font-size="27.69" font-weight="bold" transform="translate(1650.92 672.4) scale(1.0142 1)" x="0" y="0">4</text>
<text font-family='"Liberation Serif", serif' font-size="27.27" font-weight="bold" transform="translate(1735.97 672.4) scale(1.0207 1)" x="0" y="0">1</text>
<text font-family='"Liberation Serif", serif' font-size="27.27" font-weight="bold" x="1241.11" y="706.8" letter-spacing="4.21">30</text>
<text font-family='"Liberation Serif", serif' font-size="27.27" font-weight="bold" x="1318.41" y="706.8" letter-spacing="3.41">30</text>
<text font-family='"Liberation Serif", serif' font-size="27.27" font-weight="bold" x="1403.11" y="707.8" letter-spacing="4.21">25</text>
<text font-family='"Liberation Serif", serif' font-size="27.27" font-weight="bold" x="1482.02" y="706.4" letter-spacing="4.3">12</text>
<text font-family='"Liberation Serif", serif' font-size="27.69" font-weight="bold" transform="translate(1572.92 705.2) scale(1.0142 1)" x="0" y="0">4</text>
<text font-family='"Liberation Serif", serif' font-size="27.27" font-weight="bold" transform="translate(1650.05 705.2) scale(1.0563 1)" x="0" y="0">2</text>
<text font-family='"Liberation Serif", serif' font-size="27.27" font-weight="bold" transform="translate(1735.97 705) scale(1.0207 1)" x="0" y="0">1</text>
<text font-family='"Liberation Serif", serif' font-size="23.04" font-weight="bold" x="1.54" y="1408.9" letter-spacing="0.83">Number at risk</text>
<text font-family='"Liberation Serif", serif' font-size="24.55" font-weight="bold" x="112.15" y="1439.2" letter-spacing="0.01">ATO</text>
<text font-family='"Liberation Serif", serif' font-size="24.92" font-weight="bold" x="121" y="1468.6" letter-spacing="-0.44">RIF</text>
<text font-family='"Liberation Serif", serif' font-size="27.27" font-weight="bold" transform="translate(191.12 1440.2) scale(1.0427 1)" x="0" y="0">43</text>
<text font-family='"Liberation Serif", serif' font-size="27.27" font-weight="bold" transform="translate(272.12 1440.8) scale(1.0427 1)" x="0" y="0">43</text>
<text font-family='"Liberation Serif", serif' font-size="27.27" font-weight="bold" transform="translate(347.17 1439.2) scale(1.1279 1)" x="0" y="0">39</text>
<text font-family='"Liberation Serif", serif' font-size="27.27" font-weight="bold" transform="translate(424.43 1438.6) scale(1.0763 1)" x="0" y="0">23</text>
<text font-family='"Liberation Serif", serif' font-size="27.27" font-weight="bold" transform="translate(500.66 1438) scale(1.1167 1)" x="0" y="0">12</text>
<text font-family='"Liberation Serif", serif' font-size="27.69" font-weight="bold" transform="translate(586.87 1439.2) scale(1.0403 1)" x="0" y="0">7</text>
<text font-family='"Liberation Serif", serif' font-size="27.27" font-weight="bold" transform="translate(673.66 1439.2) scale(1.0703 1)" x="0" y="0">1</text>
<text font-family='"Liberation Serif", serif' font-size="27.27" font-weight="bold" transform="translate(191.11 1470.6) scale(1.0537 1)" x="0" y="0">42</text>
<text font-family='"Liberation Serif", serif' font-size="27.27" font-weight="bold" transform="translate(272.11 1470.6) scale(1.0537 1)" x="0" y="0">42</text>
<text font-family='"Liberation Serif", serif' font-size="27.27" font-weight="bold" transform="translate(347.23 1469.5) scale(1.0766 1)" x="0" y="0">37</text>
<text font-family='"Liberation Serif", serif' font-size="27.27" font-weight="bold" transform="translate(424.41 1468.6) scale(1.0880 1)" x="0" y="0">25</text>
<text font-family='"Liberation Serif", serif' font-size="27.27" font-weight="bold" transform="translate(500.67 1468.6) scale(1.1124 1)" x="0" y="0">16</text>
<text font-family='"Liberation Serif", serif' font-size="27.69" font-weight="bold" transform="translate(586.87 1468.6) scale(1.0403 1)" x="0" y="0">7</text>
<text font-family='"Liberation Serif", serif' font-size="27.27" font-weight="bold" transform="translate(673.66 1468.6) scale(1.0703 1)" x="0" y="0">1</text>
<text font-family='"Liberation Serif", serif' font-size="22.9" font-weight="bold" x="1056.74" y="1407.9" letter-spacing="0.82">Number at risk</text>
<text font-family='"Liberation Serif", serif' font-size="24.55" font-weight="bold" x="1166.95" y="1438.3" letter-spacing="0.01">ATO</text>
<text font-family='"Liberation Serif", serif' font-size="24.92" font-weight="bold" x="1175.5" y="1468.1" letter-spacing="-0.29">RIF</text>
<text font-family='"Liberation Serif", serif' font-size="27.27" font-weight="bold" transform="translate(1243.95 1439.7) scale(1.1667 1)" x="0" y="0">15</text>
<text font-family='"Liberation Serif", serif' font-size="27.27" font-weight="bold" transform="translate(1324.95 1440.3) scale(1.1667 1)" x="0" y="0">15</text>
<text font-family='"Liberation Serif", serif' font-size="27.27" font-weight="bold" transform="translate(1400.91 1438.7) scale(1.1417 1)" x="0" y="0">10</text>
<text font-family='"Liberation Serif", serif' font-size="27.69" font-weight="bold" transform="translate(1486.71 1437.4) scale(0.9802 1)" x="0" y="0">5</text>
<text font-family='"Liberation Serif", serif' font-size="27.27" font-weight="bold" transform="translate(1562.9 1437.4) scale(1.0062 1)" x="0" y="0">3</text>
<text font-family='"Liberation Serif", serif' font-size="27.27" font-weight="bold" transform="translate(1642.69 1438.6) scale(1.0214 1)" x="0" y="0">2</text>
<text font-family='"Liberation Serif", serif' font-size="27.27" font-weight="bold" transform="translate(1728.32 1438.6) scale(1.0901 1)" x="0" y="0">1</text>
<text font-family='"Liberation Serif", serif' font-size="27.27" font-weight="bold" transform="translate(1243.95 1470.1) scale(1.1667 1)" x="0" y="0">19</text>
<text font-family='"Liberation Serif", serif' font-size="27.27" font-weight="bold" transform="translate(1324.95 1470.7) scale(1.1667 1)" x="0" y="0">19</text>
<text font-family='"Liberation Serif", serif' font-size="27.27" font-weight="bold" transform="translate(1400.94 1469) scale(1.1288 1)" x="0" y="0">13</text>
<text font-family='"Liberation Serif", serif' font-size="27.27" font-weight="bold" transform="translate(1487.02 1468.4) scale(0.9500 1)" x="0" y="0">6</text>
<text font-family='"Liberation Serif", serif' font-size="27.69" font-weight="bold" transform="translate(1564.04 1468.4) scale(0.9220 1)" x="0" y="0">4</text>
<text font-family='"Liberation Serif", serif' font-size="27.27" font-weight="bold" transform="translate(1641.36 1469.6) scale(1.1198 1)" x="0" y="0">1</text>
<text font-family='"Liberation Serif", serif' font-size="27.27" font-weight="bold" transform="translate(1728.32 1469.6) scale(1.0901 1)" x="0" y="0">1</text>
<text font-family='"Liberation Sans", sans-serif' font-size="32.27" font-weight="bold" transform="translate(128.15 332.78) rotate(-90) scale(1.0108 1)" x="0" y="0">EFS/%</text>
<text font-family='"Liberation Sans", sans-serif' font-size="34" font-weight="bold" transform="translate(1153.82 336.89) rotate(-90) scale(0.9612 1)" x="0" y="0">EFS/%</text>
<text font-family='"Liberation Sans", sans-serif' font-size="30.93" font-weight="bold" transform="translate(108.28 1140.98) rotate(-90) scale(1.0523 1)" x="0" y="0">EFS/%</text>
<text font-family='"Liberation Sans", sans-serif' font-size="32.13" font-weight="bold" transform="translate(1167.76 1134.68) rotate(-90) scale(1.0130 1)" x="0" y="0">EFS/%</text>
<text font-family='"Liberation Serif", "Noto Serif CJK SC", serif' font-size="25" x="438.45" y="266.95" fill="#9a9a9a">：</text>
<text font-family='"Liberation Serif", "Noto Serif CJK SC", serif' font-size="25" x="521.85" y="266.95" fill="#9a9a9a">：</text>
<text font-family='"Liberation Serif", "Noto Serif CJK SC", serif' font-size="25" x="739.65" y="266.95" fill="#9a9a9a">：</text>
<text font-family='"Liberation Serif", "Noto Serif CJK SC", serif' font-size="25" x="518.65" y="298.35" fill="#9a9a9a">：</text>
<text font-family='"Liberation Serif", "Noto Serif CJK SC", serif' font-size="25" x="736.65" y="298.35" fill="#9a9a9a">：</text>
<text font-family='"Liberation Serif", "Noto Serif CJK SC", serif' font-size="25" x="445.75" y="329.55" fill="#9a9a9a">：</text>
<text font-family='"Liberation Serif", "Noto Serif CJK SC", serif' font-size="25" x="535.65" y="329.55" fill="#9a9a9a">：</text>
<text font-family='"Liberation Serif", "Noto Serif CJK SC", serif' font-size="25" x="738.65" y="329.55" fill="#9a9a9a">：</text>
<text font-family='"Liberation Serif", "Noto Serif CJK SC", serif' font-size="25" x="530.85" y="360.75" fill="#9a9a9a">：</text>
<text font-family='"Liberation Serif", "Noto Serif CJK SC", serif' font-size="25" x="737.65" y="360.75" fill="#9a9a9a">：</text>
<text font-family='"Liberation Serif", "Noto Serif CJK SC", serif' font-size="27.8" x="629.19" y="266.2" fill="#666">，</text>
<text font-family='"Liberation Serif", "Noto Serif CJK SC", serif' font-size="27.8" x="627.19" y="297.6" fill="#666">，</text>
<text font-family='"Liberation Serif", "Noto Serif CJK SC", serif' font-size="27.8" x="628.19" y="328.8" fill="#666">，</text>
<text font-family='"Liberation Serif", "Noto Serif CJK SC", serif' font-size="27.8" x="632.19" y="360" fill="#666">，</text>
<text font-family='"Liberation Serif", "Noto Serif CJK SC", serif' font-size="25" x="1474.75" y="252.75" fill="#9a9a9a">：</text>
<text font-family='"Liberation Serif", "Noto Serif CJK SC", serif' font-size="25" x="1560.75" y="252.75" fill="#9a9a9a">：</text>
<text font-family='"Liberation Serif", "Noto Serif CJK SC", serif' font-size="25" x="1788.25" y="252.75" fill="#9a9a9a">：</text>
<text font-family='"Liberation Serif", "Noto Serif CJK SC", serif' font-size="25" x="1557.75" y="284.75" fill="#9a9a9a">：</text>
<text font-family='"Liberation Serif", "Noto Serif CJK SC", serif' font-size="25" x="1784.75" y="284.75" fill="#9a9a9a">：</text>
<text font-family='"Liberation Serif", "Noto Serif CJK SC", serif' font-size="25" x="1481.25" y="316.65" fill="#9a9a9a">：</text>
<text font-family='"Liberation Serif", "Noto Serif CJK SC", serif' font-size="25" x="1574.25" y="316.65" fill="#9a9a9a">：</text>
<text font-family='"Liberation Serif", "Noto Serif CJK SC", serif' font-size="25" x="1786.25" y="316.65" fill="#9a9a9a">：</text>
<text font-family='"Liberation Serif", "Noto Serif CJK SC", serif' font-size="25" x="1570.25" y="348.65" fill="#9a9a9a">：</text>
<text font-family='"Liberation Serif", "Noto Serif CJK SC", serif' font-size="25" x="1786.25" y="348.65" fill="#9a9a9a">：</text>
<text font-family='"Liberation Serif", "Noto Serif CJK SC", serif' font-size="27.8" x="1672.19" y="252" fill="#666">，</text>
<text font-family='"Liberation Serif", "Noto Serif CJK SC", serif' font-size="27.8" x="1670.69" y="284" fill="#666">，</text>
<text font-family='"Liberation Serif", "Noto Serif CJK SC", serif' font-size="27.8" x="1672.19" y="315.9" fill="#666">，</text>
<text font-family='"Liberation Serif", "Noto Serif CJK SC", serif' font-size="27.8" x="1674.19" y="347.9" fill="#666">，</text>
<text font-family='"Liberation Serif", "Noto Serif CJK SC", serif' font-size="25" x="418.25" y="1079.35" fill="#9a9a9a">：</text>
<text font-family='"Liberation Serif", "Noto Serif CJK SC", serif' font-size="25" x="500.75" y="1079.35" fill="#9a9a9a">：</text>
<text font-family='"Liberation Serif", "Noto Serif CJK SC", serif' font-size="25" x="712.75" y="1079.35" fill="#9a9a9a">：</text>
<text font-family='"Liberation Serif", "Noto Serif CJK SC", serif' font-size="25" x="499.25" y="1110.45" fill="#9a9a9a">：</text>
<text font-family='"Liberation Serif", "Noto Serif CJK SC", serif' font-size="25" x="715.75" y="1110.45" fill="#9a9a9a">：</text>
<text font-family='"Liberation Serif", "Noto Serif CJK SC", serif' font-size="25" x="424.75" y="1141.45" fill="#9a9a9a">：</text>
<text font-family='"Liberation Serif", "Noto Serif CJK SC", serif' font-size="25" x="514.25" y="1141.45" fill="#9a9a9a">：</text>
<text font-family='"Liberation Serif", "Noto Serif CJK SC", serif' font-size="25" x="716.75" y="1141.45" fill="#9a9a9a">：</text>
<text font-family='"Liberation Serif", "Noto Serif CJK SC", serif' font-size="25" x="509.75" y="1172.75" fill="#9a9a9a">：</text>
<text font-family='"Liberation Serif", "Noto Serif CJK SC", serif' font-size="25" x="716.75" y="1172.75" fill="#9a9a9a">：</text>
<text font-family='"Liberation Serif", "Noto Serif CJK SC", serif' font-size="27.8" x="602.19" y="1078.6" fill="#666">，</text>
<text font-family='"Liberation Serif", "Noto Serif CJK SC", serif' font-size="27.8" x="606.19" y="1109.7" fill="#666">，</text>
<text font-family='"Liberation Serif", "Noto Serif CJK SC", serif' font-size="27.8" x="609.19" y="1140.7" fill="#666">，</text>
<text font-family='"Liberation Serif", "Noto Serif CJK SC", serif' font-size="27.8" x="610.69" y="1172" fill="#666">，</text>
</g></svg></body></html>
